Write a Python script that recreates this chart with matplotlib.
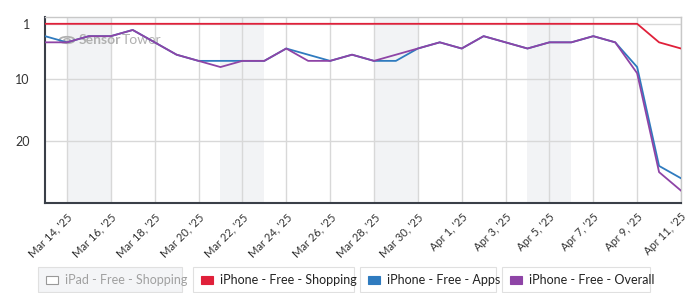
import matplotlib.pyplot as plt
import matplotlib.dates as mdates
from matplotlib.patches import Rectangle, Circle
import datetime as dt

plt.rcParams['font.family'] = ['Lato', 'DejaVu Sans']

start = dt.date(2025, 3, 13)
dates = [start + dt.timedelta(days=i) for i in range(30)]

shopping = [1, 1, 1, 1, 1, 1, 1, 1, 1, 1, 1, 1, 1, 1, 1, 1, 1, 1, 1, 1, 1, 1, 1, 1, 1, 1, 1, 1, 4, 5]
apps = [3, 4, 3, 3, 2, 4, 6, 7, 7, 7, 7, 5, 6, 7, 6, 7, 7, 5, 4, 5, 3, 4, 5, 4, 4, 3, 4, 8, 24, 26]
overall = [4, 4, 3, 3, 2, 4, 6, 7, 8, 7, 7, 5, 7, 7, 6, 7, 6, 5, 4, 5, 3, 4, 5, 4, 4, 3, 4, 9, 25, 28]

weekends = [(dt.date(2025, 3, 14), dt.date(2025, 3, 16)),
            (dt.date(2025, 3, 21), dt.date(2025, 3, 23)),
            (dt.date(2025, 3, 28), dt.date(2025, 3, 30)),
            (dt.date(2025, 4, 4), dt.date(2025, 4, 6))]

legend_labels = ['iPad - Free - Shopping', 'iPhone - Free - Shopping',
                 'iPhone - Free - Apps', 'iPhone - Free - Overall']
colors = ['#ffffff', '#e0203a', '#2f7bbf', '#8e44a6']

fig = plt.figure(figsize=(6.9, 2.93), dpi=100)
ax = fig.add_axes([45 / 690, 1 - 203 / 293, 636 / 690, 186 / 293])

for a, b in weekends:
    ax.axvspan(mdates.date2num(a), mdates.date2num(b), color='#f2f3f5', zorder=0, lw=0)

ax.plot(dates, apps, color=colors[2], lw=1.3, zorder=3)
ax.plot(dates, overall, color=colors[3], lw=1.3, zorder=4)
ax.plot(dates, shopping, color=colors[1], lw=1.3, zorder=5)

ax.set_xlim(mdates.date2num(dates[0]), mdates.date2num(dates[-1]))
ax.set_ylim(30, -0.1)
ax.set_yticks([1, 10, 20])
ticks = [dt.date(2025, 3, 14) + dt.timedelta(days=2 * i) for i in range(15)]
ax.set_xticks(ticks)
ax.set_xticklabels([d.strftime('%b ') + str(d.day) + ", '25" for d in ticks],
                   rotation=45, ha='right', rotation_mode='anchor', fontsize=8, color='#333333')
ax.tick_params(axis='y', labelsize=9, colors='#333333', length=0, pad=11)
ax.tick_params(axis='x', length=0, pad=6)
ax.grid(True, color='#d8d8d8', lw=1)
ax.set_axisbelow(True)
for s in ['left', 'bottom']:
    ax.spines[s].set_color('#3a3f48')
    ax.spines[s].set_linewidth(1.5)
for s in ['top', 'right']:
    ax.spines[s].set_color('#c8c8c8')
    ax.spines[s].set_linewidth(1)

# watermark (under the lines)
wm = '#b0b0b0'
ax.add_patch(Circle((67 / 690, 1 - 40 / 293), 7.5 / 690, transform=fig.transFigure,
                    fill=False, ec=wm, lw=1.3, zorder=2))
ax.add_patch(Circle((67 / 690, 1 - 40 / 293), 3 / 690, transform=fig.transFigure,
                    fill=False, ec=wm, lw=1.0, zorder=2))
t1 = ax.text(79 / 690, 1 - 40 / 293, 'Sensor', fontsize=10, fontweight='bold', color=wm,
             va='center', transform=fig.transFigure, zorder=2)
ax.annotate('Tower', xy=(1, 0.5), xycoords=t1, fontsize=10, color=wm, va='center',
            zorder=2)

# legend boxes
boxes = [(38, 182), (193, 354), (360, 496), (502, 650)]
for (x0, x1), lab, c, i in zip(boxes, legend_labels, colors, range(4)):
    fc = '#f4f5f7' if i == 0 else 'white'
    fig.add_artist(Rectangle((x0 / 690, 1 - 292 / 293), (x1 - x0) / 690, 25 / 293,
                             transform=fig.transFigure, fc=fc, ec='#e0e0e0', lw=0.8))
    fig.add_artist(Rectangle(((x0 + 8) / 690, 1 - 284 / 293), 12 / 690, 8 / 293,
                             transform=fig.transFigure, fc=c,
                             ec='#999999' if i == 0 else c, lw=0.8))
    fig.text((x0 + 27) / 690, 1 - 280 / 293, lab, fontsize=9, va='center',
             color='#a0a0a0' if i == 0 else '#222222')

fig.savefig('out.png', dpi=100)
